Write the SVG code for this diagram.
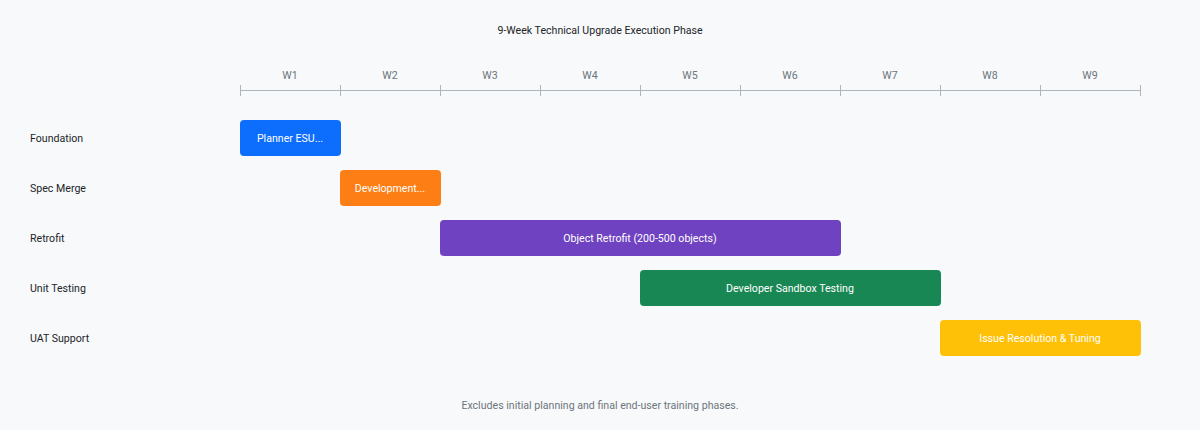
<svg xmlns="http://www.w3.org/2000/svg" width="1200" height="430" viewBox="0 0 1200 430">
<style>
text{font-family:Roboto,"Liberation Sans",sans-serif;font-size:10.6px}
.title{fill:#212529;text-anchor:middle}
.wk{fill:#6c757d;text-anchor:middle}
.row{fill:#212529}
.bl{fill:#ffffff;text-anchor:middle}
.foot{fill:#6c757d;text-anchor:middle}
.ax{stroke:#adb5bd;stroke-width:1;fill:none}
</style>
<rect x="0" y="0" width="1200" height="430" fill="#f8f9fa"/>
<text class="title" x="600" y="34">9-Week Technical Upgrade Execution Phase</text>
<g id="axis">
<path class="ax" d="M240 90.5H1140M240.5 85V96M340.5 85V96M440.5 85V96M540.5 85V96M640.5 85V96M740.5 85V96M840.5 85V96M940.5 85V96M1040.5 85V96M1140.5 85V96"/>
<text class="wk" x="290" y="79">W1</text>
<text class="wk" x="390" y="79">W2</text>
<text class="wk" x="490" y="79">W3</text>
<text class="wk" x="590" y="79">W4</text>
<text class="wk" x="690" y="79">W5</text>
<text class="wk" x="790" y="79">W6</text>
<text class="wk" x="890" y="79">W7</text>
<text class="wk" x="990" y="79">W8</text>
<text class="wk" x="1090" y="79">W9</text>
</g>
<g id="row-foundation">
<text class="row" x="30" y="142">Foundation</text>
<rect x="240" y="120" width="101" height="36" rx="4" fill="#0d6efd"/>
<text class="bl" x="290" y="142">Planner ESU...</text>
</g>
<g id="row-specmerge">
<text class="row" x="30" y="192">Spec Merge</text>
<rect x="340" y="170" width="101" height="36" rx="4" fill="#fd7e14"/>
<text class="bl" x="390" y="192">Development...</text>
</g>
<g id="row-retrofit">
<text class="row" x="30" y="242">Retrofit</text>
<rect x="440" y="220" width="401" height="36" rx="4" fill="#6f42c1"/>
<text class="bl" x="640" y="242">Object Retrofit (200-500 objects)</text>
</g>
<g id="row-unittesting">
<text class="row" x="30" y="292">Unit Testing</text>
<rect x="640" y="270" width="301" height="36" rx="4" fill="#198754"/>
<text class="bl" x="790" y="292">Developer Sandbox Testing</text>
</g>
<g id="row-uat">
<text class="row" x="30" y="342">UAT Support</text>
<rect x="940" y="320" width="201" height="36" rx="4" fill="#ffc107"/>
<text class="bl" x="1040" y="342">Issue Resolution &amp; Tuning</text>
</g>
<g id="connectors"/>
<text class="foot" x="600" y="409">Excludes initial planning and final end-user training phases.</text>
</svg>
